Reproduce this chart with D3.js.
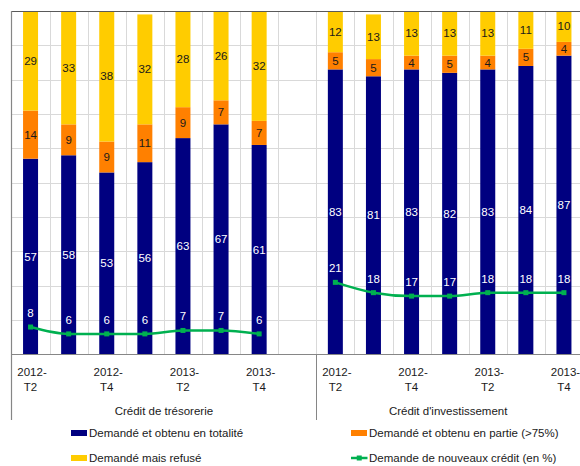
<!DOCTYPE html>
<html>
<head>
<meta charset="utf-8">
<script src="https://cdn.jsdelivr.net/npm/d3@7"></script>
<style>
  html, body { margin: 0; padding: 0; background: #fff; }
  svg { display: block; font-family: "Liberation Sans", Arial, sans-serif; }
</style>
</head>
<body>
<svg id="chart" width="580" height="466"></svg>
<script>
// Quarterly survey periods (same for both credit types)
const periods = ["2012-T2", "2012-T3", "2012-T4", "2013-T1", "2013-T2", "2013-T3", "2013-T4"];
const groups = ["Crédit de trésorerie", "Crédit d'investissement"];

// Crédit de trésorerie (%)
const tresoTotalite = [57, 58, 53, 56, 63, 67, 61];
const tresoPartie   = [14, 9, 9, 11, 9, 7, 7];
const tresoRefuse   = [29, 33, 38, 32, 28, 26, 32];
const tresoDemande  = [8, 6, 6, 6, 7, 7, 6];

// Crédit d'investissement (%)
const investTotalite = [83, 81, 83, 82, 83, 84, 87];
const investPartie   = [5, 5, 4, 5, 4, 5, 4];
const investRefuse   = [12, 13, 13, 13, 13, 11, 10];
const investDemande  = [21, 18, 17, 17, 18, 18, 18];

const seriesNames = [
  "Demandé et obtenu en totalité",
  "Demandé et obtenu en partie (>75%)",
  "Demandé mais refusé",
  "Demande de nouveaux crédit (en %)"
];
const colors = ["#000080", "#FF8000", "#FFCC00", "#00B050"];
const labelColors = ["#ffffff", "#1a1a1a", "#1a1a1a"];

const groupData = [
  { name: groups[0], stacks: [tresoTotalite, tresoPartie, tresoRefuse], line: tresoDemande },
  { name: groups[1], stacks: [investTotalite, investPartie, investRefuse], line: investDemande }
];

// Category slots: trésorerie quarters, one empty slot, then investissement quarters
const slots = [];
groupData.forEach((g, gi) => {
  periods.forEach((p, pi) => slots.push({ key: gi + "|" + p, group: gi, period: p, index: pi }));
  if (gi === 0) slots.push({ key: "gap", group: 0, period: null, index: -1 });
});

const svg = d3.select("#chart");
const plotLeft = 11.5, plotTop = 11, plotBottom = 354.5, plotRight = 580;
const step = 38.1;
const barW = 15;
const fontSize = 11.5;

const x = d3.scaleBand()
  .domain(slots.map(s => s.key))
  .range([plotLeft, plotLeft + step * slots.length])
  .padding(0);

const y = d3.scaleLinear().domain([0, 100]).range([plotBottom, plotTop]).clamp(true);

// Gridlines
const grid = svg.append("g").attr("stroke", "#d9d9d9").attr("stroke-width", 1);
grid.selectAll("line.h")
  .data(d3.range(10, 100, 10))
  .join("line")
  .attr("x1", plotLeft).attr("x2", plotRight)
  .attr("y1", d => Math.round(y(d)) + 0.5).attr("y2", d => Math.round(y(d)) + 0.5);
grid.selectAll("line.v")
  .data(slots.slice(1))
  .join("line")
  .attr("x1", d => Math.round(x(d.key)) + 0.5).attr("x2", d => Math.round(x(d.key)) + 0.5)
  .attr("y1", plotTop).attr("y2", plotBottom);

// Stacked bars
const barsG = svg.append("g");
const labelsG = svg.append("g")
  .attr("font-size", fontSize)
  .attr("text-anchor", "middle");

groupData.forEach((g, gi) => {
  periods.forEach((p, pi) => {
    const key = gi + "|" + p;
    const cx = x(key) + x.bandwidth() / 2;
    let base = 0;
    g.stacks.forEach((vals, si) => {
      const v = vals[pi];
      const y0 = y(base), y1 = y(base + v);
      barsG.append("rect")
        .attr("x", cx - barW / 2)
        .attr("width", barW)
        .attr("y", y1)
        .attr("height", Math.max(0, y0 - y1))
        .attr("fill", colors[si]);
      labelsG.append("text")
        .attr("x", cx)
        .attr("y", (y0 + y1) / 2)
        .attr("dy", "0.35em")
        .attr("fill", labelColors[si])
        .text(v);
      base += v;
    });
  });
});

// Demand line per group
const lineGen = d3.line()
  .x(d => x(d.key) + x.bandwidth() / 2)
  .y(d => y(d.v))
  .curve(d3.curveMonotoneX);

groupData.forEach((g, gi) => {
  const pts = periods.map((p, pi) => ({ key: gi + "|" + p, v: g.line[pi] }));
  svg.append("path")
    .datum(pts)
    .attr("d", lineGen)
    .attr("fill", "none")
    .attr("stroke", colors[3])
    .attr("stroke-width", 2.5);
  svg.append("g").selectAll("rect")
    .data(pts)
    .join("rect")
    .attr("x", d => x(d.key) + x.bandwidth() / 2 - 2.5)
    .attr("y", d => y(d.v) - 2.5)
    .attr("width", 5).attr("height", 5)
    .attr("fill", colors[3]);
  svg.append("g")
    .attr("font-size", fontSize)
    .attr("text-anchor", "middle")
    .attr("fill", "#ffffff")
    .selectAll("text")
    .data(pts)
    .join("text")
    .attr("x", d => x(d.key) + x.bandwidth() / 2)
    .attr("y", d => y(d.v) - 14)
    .attr("dy", "0.35em")
    .text(d => d.v);
});

// Axes frame
const axisColor = "#868686";
svg.append("line")
  .attr("x1", plotLeft).attr("x2", plotRight)
  .attr("y1", plotTop + 0.5).attr("y2", plotTop + 0.5)
  .attr("stroke", "#595959").attr("stroke-width", 1.2);
svg.append("line")
  .attr("x1", plotLeft).attr("x2", plotRight)
  .attr("y1", plotBottom).attr("y2", plotBottom)
  .attr("stroke", axisColor).attr("stroke-width", 1);
svg.append("line")
  .attr("x1", plotLeft).attr("x2", plotLeft)
  .attr("y1", plotTop).attr("y2", 420)
  .attr("stroke", axisColor).attr("stroke-width", 1.2);
// Group divider on the category axis
const investStart = x("1|" + periods[0]);
svg.append("line")
  .attr("x1", Math.round(investStart) + 0.5).attr("x2", Math.round(investStart) + 0.5)
  .attr("y1", plotBottom).attr("y2", 420)
  .attr("stroke", axisColor).attr("stroke-width", 1);

// Category labels: every other quarter, split over two lines
const tickG = svg.append("g")
  .attr("font-size", fontSize)
  .attr("text-anchor", "middle")
  .attr("fill", "#1a1a1a");
slots.filter(s => s.period && s.index % 2 === 0).forEach(s => {
  const cx = x(s.key) + x.bandwidth() / 2;
  const parts = s.period.split("-");
  const t = tickG.append("text").attr("x", cx).attr("y", 376);
  t.append("tspan").attr("x", cx).attr("dx", 1.5).text(parts[0] + "-");
  t.append("tspan").attr("x", cx).attr("y", 391).text(parts[1]);
});

// Group labels centred under each group's slots
groupData.forEach((g, gi) => {
  const keys = slots.filter(s => s.group === gi).map(s => s.key);
  const x0 = x(keys[0]);
  const x1 = Math.min(plotRight, x(keys[keys.length - 1]) + x.bandwidth());
  svg.append("text")
    .attr("x", (x0 + x1) / 2)
    .attr("y", 415)
    .attr("font-size", fontSize)
    .attr("text-anchor", "middle")
    .attr("fill", "#1a1a1a")
    .text(g.name);
});

// Legend
const legendItems = [
  { i: 0, x: 71, y: 433 },
  { i: 1, x: 351, y: 433 },
  { i: 2, x: 71, y: 458 },
  { i: 3, x: 351, y: 458 }
];
const legend = svg.append("g").attr("font-size", fontSize).attr("fill", "#1a1a1a");
legendItems.forEach(it => {
  if (it.i < 3) {
    legend.append("rect")
      .attr("x", it.x).attr("y", it.y - 3)
      .attr("width", 16).attr("height", 6)
      .attr("fill", colors[it.i]);
  } else {
    legend.append("line")
      .attr("x1", it.x).attr("x2", it.x + 16.5)
      .attr("y1", it.y).attr("y2", it.y)
      .attr("stroke", colors[3]).attr("stroke-width", 2.5);
    legend.append("rect")
      .attr("x", it.x + 8.25 - 2.5).attr("y", it.y - 2.5)
      .attr("width", 5).attr("height", 5)
      .attr("fill", colors[3]);
  }
  legend.append("text")
    .attr("x", it.x + 18)
    .attr("y", it.y)
    .attr("dy", "0.35em")
    .text(seriesNames[it.i]);
});
</script>
</body>
</html>
